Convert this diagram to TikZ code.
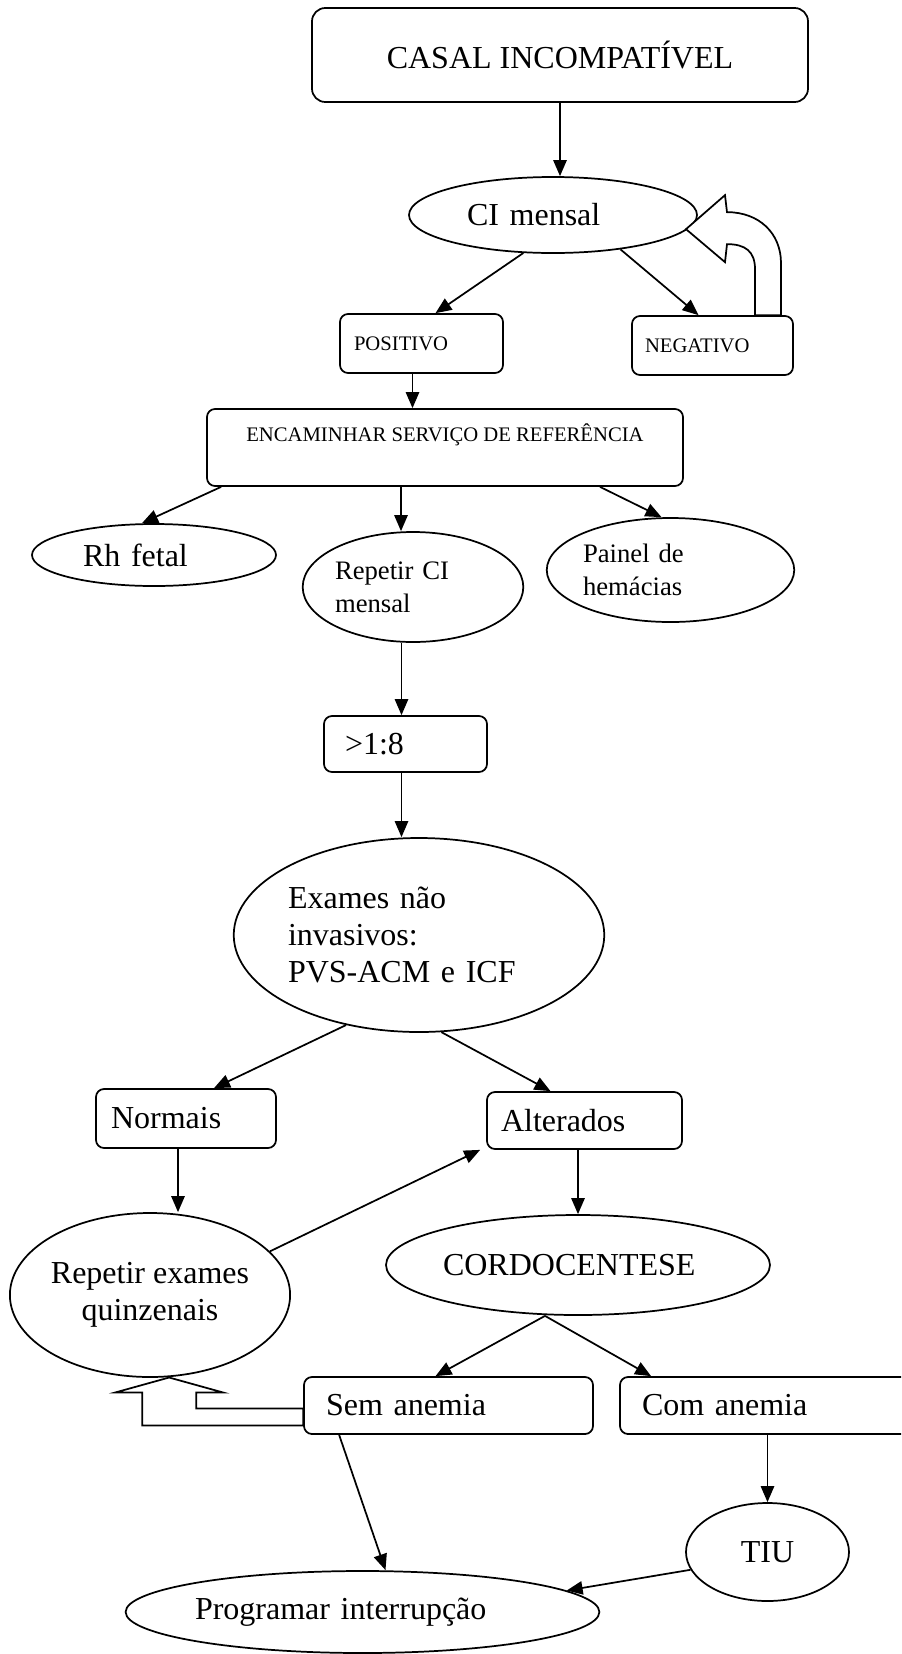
\documentclass[tikz,border=0pt]{standalone}
\usepackage{fontspec}
\setmainfont{Liberation Serif}
\usetikzlibrary{arrows.meta, positioning, calc, shapes.geometric}

\begin{document}
\begin{tikzpicture}[x=0.75pt, y=-0.75pt,
    big/.style={font=\fontsize{24}{27.5}\selectfont},
    mid/.style={font=\fontsize{20}{24.5}\selectfont},
    sml/.style={font=\fontsize{15.5}{18}\selectfont},
    rbox/.style={rectangle, rounded corners=6pt, draw=black, line width=1.3pt,
                 fill=white, inner sep=0pt, align=left},
    ovl/.style={ellipse, draw=black, line width=1.3pt, fill=white,
                inner sep=0pt, align=left},
    arr/.style={-{Triangle[length=12pt, width=10pt]}, line width=1.3pt},
    hollow/.style={line width=1.3pt, fill=white, line join=miter},
]

\useasboundingbox (0,0) rectangle (901,1654);
\clip (0,0) rectangle (901,1654);

% ================================================================ top
\node[rbox, big, align=center, rounded corners=10pt, minimum width=372pt, minimum height=70.5pt]
     (casal) at (560, 55) {CASAL INCOMPATÍVEL};
\node[ovl, big, text width=129pt, minimum width=216pt, minimum height=57pt]
     (cim) at (553, 215) {CI mensal};

\node[rbox, sml, text width=101.25pt, minimum width=122.25pt, minimum height=44.25pt]
     (pos) at (421.5, 343.5) {POSITIVO};
\node[rbox, sml, text width=101.25pt, minimum width=120.75pt, minimum height=44.25pt]
     (neg) at (712.5, 345.5) {NEGATIVO};

\node[rbox, sml, align=center, text depth=22pt, minimum width=357pt, minimum height=57.75pt]
     (enc) at (445, 447.5) {ENCAMINHAR SERVIÇO DE REFERÊNCIA};

\node[ovl, big, text width=106.5pt, minimum width=183pt, minimum height=46.5pt]
     (rh) at (154, 555) {Rh fetal};
\node[ovl, mid, text width=117pt, minimum width=165pt, minimum height=82.5pt]
     (rci) at (413, 587) {Repetir CI\\mensal};
\node[ovl, mid, text width=131.25pt, minimum width=185.25pt, minimum height=78pt]
     (pai) at (670.5, 570) {Painel de\\hemácias};

% ================================================================ middle
\node[rbox, big, text width=90.75pt, minimum width=122.25pt, minimum height=42pt]
     (gt8) at (405.5, 744) {>1:8};
\node[ovl, big, text width=196.5pt, minimum width=276pt, minimum height=145.5pt]
     (exa) at (419, 935) {Exames não\\invasivos:\\PVS-ACM e ICF};

\node[rbox, big, text width=112.5pt, minimum width=135pt, minimum height=44.25pt]
     (nor) at (186, 1118.5) {Normais};
\node[rbox, big, text width=125.25pt, minimum width=146.25pt, minimum height=42.75pt]
     (alt) at (584.5, 1120.5) {Alterados};

\node[ovl, big, align=center, minimum width=210pt, minimum height=123pt]
     (rex) at (150, 1295) {Repetir exames\\quinzenais};
\node[ovl, big, text width=202.5pt, minimum width=288pt, minimum height=75pt]
     (cor) at (578, 1265) {CORDOCENTESE};

% ================================================================ bottom
\node[rbox, big, text width=183.75pt, minimum width=216.75pt, minimum height=42.75pt]
     (sem) at (448.5, 1405.5) {Sem anemia};
\node[rbox, big, text width=199.5pt, minimum width=232.5pt, minimum height=42.75pt]
     (com) at (775, 1405.5) {Com anemia};

\node[ovl, big, align=center, minimum width=122.25pt, minimum height=73.5pt]
     (tiu) at (767.5, 1552) {TIU};
\node[ovl, big, text width=251.25pt, minimum width=354.75pt, minimum height=61.5pt]
     (pro) at (362.5, 1612) {Programar interrupção};

% ================================================================ connectors
\coordinate (pe) at ($(pos.south)+(-9,0)$);
\coordinate (er) at ($(rci.north)+(-12,0)$);
\coordinate (rg) at ($(gt8.north)+(-4,0)$);
\coordinate (nr) at ($(nor.south)+(-8,0)$);

\draw[arr] (casal.south) -- (casal.south |- cim.north);
\draw[arr] (cim.232) -- ($(pos.north)+(14,0)$);
\draw[arr] (cim.333) -- ($(neg.north)+(-14,0)$);
\draw[arr] (pe) -- (pe |- enc.north);

\draw[arr] ($(enc.south west)+(15,0)$) -- ($(rh.north)+(-12,0)$);
\draw[arr] (er |- enc.south) -- (er);
\draw[arr] ($(enc.south)+(155,0)$) -- ($(pai.north)+(-9,0)$);

\draw[arr] (rg |- rci.south) -- (rg);
\draw[arr] (rg |- gt8.south) -- (rg |- exa.north);

\draw[arr] (exa.231) -- ($(nor.north)+(28,0)$);
\draw[arr] (exa.283) -- ($(alt.north)+(-34,0)$);
\draw[arr] (nr) -- (nr |- rex.north);
\draw[arr] (alt.south -| cor.north) -- (cor.north);
\draw[arr] (rex.20) -- ($(alt.south west)+(-6,0)$);

\draw[arr] ($(cor.south)+(-33,0)$) -- ($(sem.north)+(-13,0)$);
\draw[arr] ($(cor.south)+(-33,0)$) -- ($(com.north west)+(32,0)$);
\draw[arr] ($(sem.south west)+(36,0)$) -- ($(pro.north)+(23,0)$);
\draw[arr] (com.south -| tiu.north) -- (tiu.north);
\draw[arr] (tiu.193) -- (pro.6);

% the two block arrows going back
\draw[hollow] ($(neg.north)+(42.5,0)$) -- ++(0,-46)
     .. controls +(0,-18) and +(18,0) .. ++(-28,-25)
     -- ++(-2,18) -- ++(-39,-33) -- ++(39,-34) -- ++(2,17)
     .. controls +(32,0) and +(0,-30) .. ++(54,51)
     -- ++(0,52) -- cycle;

\draw[hollow] ($(sem.west)+(0,3)$) -- ++(-107,0) -- ++(0,-16) -- ++(27,0)
     -- ++(-54,-15) -- ++(-54,15) -- ++(27,0) -- ++(0,33) -- ++(161,0) -- cycle;

\end{tikzpicture}
\end{document}
